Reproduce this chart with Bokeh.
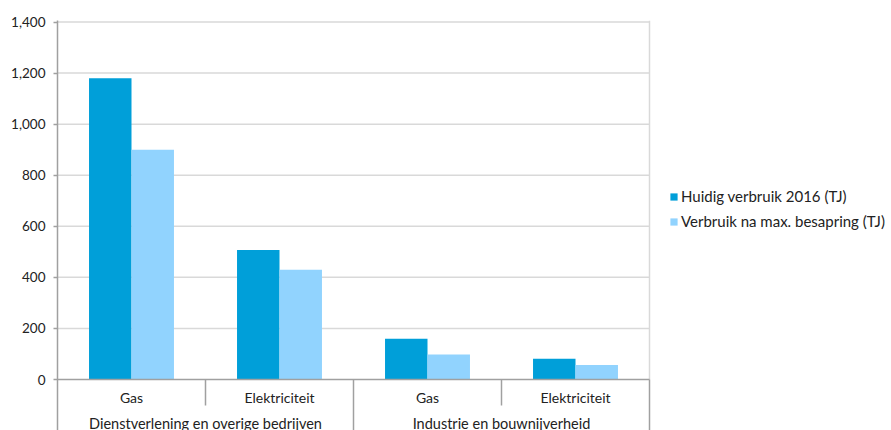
from bokeh.plotting import figure
from bokeh.models import (Range1d, ColumnDataSource, FixedTicker,
                          NumeralTickFormatter, Legend, LegendItem)
from bokeh.core.properties import value
from bokeh.embed import file_html
from bokeh.resources import INLINE

# ---- data ----
groups = ["Dienstverlening en overige bedrijven", "Industrie en bouwnijverheid"]
subcats = ["Gas", "Elektriciteit"]
huidig = [1180, 507, 160, 81]
besparing = [900, 430, 98, 57]
series_labels = ["Huidig verbruik 2016 (TJ)", "Verbruik na max. besapring (TJ)"]
y_ticks = [0, 200, 400, 600, 800, 1000, 1200, 1400]

# ---- layout constants ----
W, H = 891, 430
LEFT, TOP = 57, 20
AREA_RIGHT = 649       # pixel column where the category area ends
PX_ZERO = 379          # pixel row of y=0
PX_TOP_TICK = 21.5     # pixel row of y=1400
scale = (PX_ZERO - PX_TOP_TICK) / y_ticks[-1]
y_end = y_ticks[-1] + (PX_TOP_TICK - TOP) / scale
y_start = -(H - PX_ZERO) / scale

FONT = "Lato"
FS = "14px"
GROUP_FS = "14.5px"
LEG_FS = "15px"
TICK_FS = "13.5px"
TXT = "#222222"
DARK = "#009fd9"
LIGHT = "#91d3fe"
GRID = "#d9d9d9"
AXIS = "#a0a0a0"

# categorical positions (one unit per sub-category)
factors = [(g, s) for g in groups for s in subcats]
n = len(factors)
xc = [i + 0.5 for i in range(n)]
x_end = n * (W - LEFT) / (AREA_RIGHT - LEFT)
bw = 0.287

src = ColumnDataSource(dict(
    xd=[x - bw / 2 for x in xc], xl=[x + bw / 2 for x in xc],
    huidig=huidig, besparing=besparing))

p = figure(x_range=Range1d(0, x_end), y_range=Range1d(y_start, y_end),
           width=W, height=H, min_border_left=LEFT, min_border_right=0,
           min_border_top=TOP, min_border_bottom=0,
           x_axis_location=None, output_backend="svg", toolbar_location=None)
p.outline_line_color = None
p.background_fill_color = "white"
p.border_fill_color = "white"
p.xgrid.visible = False
p.ygrid.visible = False

# horizontal grid lines, limited to the category area
gt = y_ticks[1:]
p.segment(x0=[0] * len(gt), y0=gt, x1=[n] * len(gt), y1=gt,
          line_color=GRID, line_width=1.5)

r1 = p.vbar(x="xd", top="huidig", width=bw, source=src,
            fill_color=DARK, line_color=None)
r2 = p.vbar(x="xl", top="besparing", width=bw, source=src,
            fill_color=LIGHT, line_color=None)

# y axis
yax = p.yaxis[0]
yax.ticker = FixedTicker(ticks=y_ticks)
yax.formatter = NumeralTickFormatter(format="0,0")
yax.minor_tick_line_color = None
yax.major_tick_in = 0
yax.major_tick_out = 4
yax.major_tick_line_color = AXIS
yax.major_tick_line_width = 1.5
yax.axis_line_color = AXIS
yax.axis_line_width = 1.5
yax.major_label_standoff = 8
yax.major_label_text_font = FONT
yax.major_label_text_font_size = TICK_FS
yax.major_label_text_color = TXT

# right border of the plot area
p.segment(x0=[n], y0=[0], x1=[n], y1=[y_end], line_color=GRID, line_width=1.5)

# category axis line
p.segment(x0=[0], y0=[0], x1=[n], y1=[0], line_color=AXIS, line_width=1.5)

# separators between sub-categories (short) and between groups (long)
ns = len(subcats)
short_drop = 26 / scale
sep_short = [gi * ns + k for gi in range(len(groups)) for k in range(1, ns)]
p.segment(x0=sep_short, y0=[0] * len(sep_short), x1=sep_short,
          y1=[-short_drop] * len(sep_short), line_color=AXIS, line_width=1.5)
sep_long = [gi * ns for gi in range(1, len(groups) + 1)]
p.segment(x0=sep_long, y0=[0] * len(sep_long), x1=sep_long,
          y1=[y_start] * len(sep_long), line_color=AXIS, line_width=1.5)

# category labels
p.text(x=xc, y=[0] * n, text=[f[1] for f in factors],
       y_offset=18, text_align="center", text_baseline="middle",
       text_font=value(FONT), text_font_size=FS, text_color=TXT)
gc = [gi * ns + ns / 2 for gi in range(len(groups))]
p.text(x=gc, y=[0] * len(groups), text=groups,
       y_offset=44, text_align="center", text_baseline="middle",
       text_font=value(FONT), text_font_size=GROUP_FS, text_color=TXT)

legend = Legend(items=[LegendItem(label=series_labels[0], renderers=[r1]),
                       LegendItem(label=series_labels[1], renderers=[r2])],
                location=(612, 199), glyph_width=9, glyph_height=9,
                label_standoff=3, spacing=5, padding=0, margin=0,
                border_line_color=None, background_fill_alpha=0,
                label_text_font=FONT, label_text_font_size=LEG_FS,
                label_text_color=TXT, label_height=20)
p.add_layout(legend)

open("out.html", "w").write(file_html(p, INLINE))
